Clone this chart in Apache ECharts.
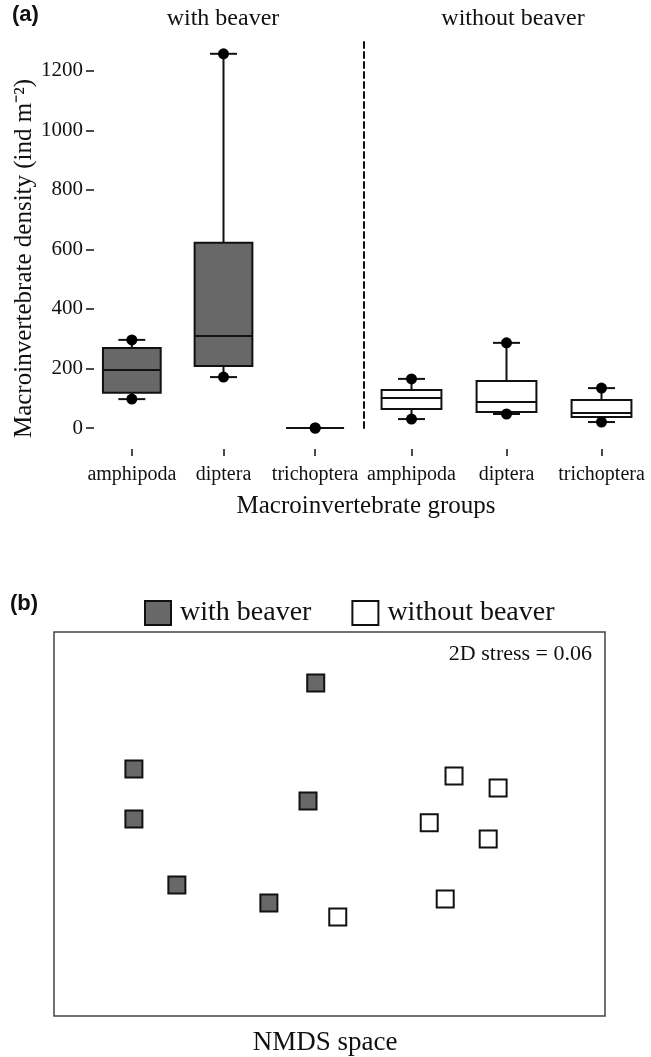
<!DOCTYPE html>
<html>
<head>
<meta charset="utf-8">
<script src="https://cdn.jsdelivr.net/npm/echarts@6/dist/echarts.min.js"></script>
<style>
  html, body { margin: 0; padding: 0; background: #fff; }
  #chart { width: 651px; height: 1057px; }
</style>
</head>
<body>
<div id="chart"></div>
<script>
// panel (a): box stats per group, [min, q1, median, q3, max]
const groups = ["amphipoda", "diptera", "trichoptera"];
const withBeaver = [
  [97, 118, 195, 269, 296],
  [171, 208, 309, 622, 1257],
  [0, 0, 0, 0, 0],
];
const withoutBeaver = [
  [30, 64, 101, 128, 165],
  [47, 54, 87, 158, 286],
  [20, 37, 50, 94, 134],
];
const densityTicks = [0, 200, 400, 600, 800, 1000, 1200];

// panel (b): NMDS site scores (arbitrary units)
const withX = [47.5, 14.5, 46.1, 14.5, 22.3, 39.0];
const withY = [86.7, 64.3, 56.0, 51.3, 34.1, 29.4];
const withoutX = [72.6, 80.6, 68.1, 78.8, 71.0, 51.5];
const withoutY = [62.5, 59.4, 50.3, 46.1, 30.5, 25.8];

const serif = "Liberation Serif, Times New Roman, serif";
const ink = "#111";
const darkFill = "#686868";

var chart = echarts.init(document.getElementById("chart"));

function boxRender(fill) {
  return function (params, api) {
    const i = api.value(0);
    const lo = api.coord([i, api.value(1)]);
    const q1 = api.coord([i, api.value(2)]);
    const md = api.coord([i, api.value(3)]);
    const q3 = api.coord([i, api.value(4)]);
    const hi = api.coord([i, api.value(5)]);
    const band = api.size([1, 0])[0];
    const half = band * 0.315;
    const cap = 13.5;
    const x = lo[0];
    const st = { stroke: ink, lineWidth: 2 };
    return {
      type: "group",
      children: [
        { type: "line", shape: { x1: x, y1: hi[1], x2: x, y2: q3[1] }, style: st },
        { type: "line", shape: { x1: x, y1: q1[1], x2: x, y2: lo[1] }, style: st },
        { type: "line", shape: { x1: x - cap, y1: hi[1], x2: x + cap, y2: hi[1] }, style: st },
        { type: "line", shape: { x1: x - cap, y1: lo[1], x2: x + cap, y2: lo[1] }, style: st },
        {
          type: "rect",
          shape: { x: x - half, y: q3[1], width: half * 2, height: q1[1] - q3[1] },
          style: { fill: fill, stroke: ink, lineWidth: 2 },
        },
        { type: "line", shape: { x1: x - half, y1: md[1], x2: x + half, y2: md[1] }, style: st },
      ],
    };
  };
}

function boxData(stats) {
  return stats.map((s, i) => [i, s[0], s[1], s[2], s[3], s[4]]);
}
function endDots(stats) {
  const pts = [];
  stats.forEach((s, i) => {
    pts.push([i, s[0]]);
    pts.push([i, s[4]]);
  });
  return pts;
}

const catAxis = (gridIndex) => ({
  type: "category",
  gridIndex: gridIndex,
  data: groups,
  offset: 21,
  axisLine: { show: false, onZero: false },
  axisTick: { show: true, alignWithLabel: true, length: 7, lineStyle: { color: ink, width: 1.5 } },
  axisLabel: { color: ink, fontFamily: serif, fontSize: 20, margin: 16, interval: 0, hideOverlap: false },
  splitLine: { show: false },
});

const opt = {
  animation: false,
  backgroundColor: "#fff",
  title: [
    { text: "(a)", left: 12, top: 4, padding: 0, textStyle: { fontFamily: "Liberation Sans, Arial, sans-serif", fontWeight: "bold", fontSize: 22, color: ink } },
    { text: "with beaver", left: 223, top: 7, padding: 0, textAlign: "center", textStyle: { fontFamily: serif, fontWeight: "normal", fontSize: 24, color: ink } },
    { text: "without beaver", left: 513, top: 7, padding: 0, textAlign: "center", textStyle: { fontFamily: serif, fontWeight: "normal", fontSize: 24, color: ink } },
    { text: "Macroinvertebrate groups", left: 366, top: 494, padding: 0, textAlign: "center", textStyle: { fontFamily: serif, fontWeight: "normal", fontSize: 25, color: ink } },
    { text: "(b)", left: 10, top: 593, padding: 0, textStyle: { fontFamily: "Liberation Sans, Arial, sans-serif", fontWeight: "bold", fontSize: 22, color: ink } },
    { text: "2D stress = 0.06", right: 59, top: 643, padding: 0, textStyle: { fontFamily: serif, fontWeight: "normal", fontSize: 22, color: ink } },
    { text: "NMDS space", left: 325, top: 1029, padding: 0, textAlign: "center", textStyle: { fontFamily: serif, fontWeight: "normal", fontSize: 27, color: ink } },
  ],
  legend: {
    data: ["with beaver", "without beaver"],
    left: 144,
    top: 599,
    padding: 0,
    icon: "rect",
    itemWidth: 26,
    itemHeight: 24,
    itemGap: 40,
    textStyle: { fontFamily: serif, fontSize: 28, color: ink, padding: [0, 0, 0, 4] },
  },
  grid: [
    { left: 86, top: 41, width: 275, height: 387 },
    { left: 364, top: 41, width: 285, height: 387 },
    { left: 54, top: 632, width: 551, height: 384, show: true, borderColor: "#444", borderWidth: 1.5, backgroundColor: "transparent" },
  ],
  xAxis: [
    catAxis(0),
    catAxis(1),
    { type: "value", gridIndex: 2, min: 0, max: 100, show: false },
  ],
  yAxis: [
    {
      type: "value",
      gridIndex: 0,
      min: 0,
      max: 1300,
      name: "Macroinvertebrate density (ind m⁻²)",
      nameLocation: "middle",
      nameRotate: 90,
      nameGap: 38,
      nameTextStyle: { fontFamily: serif, fontSize: 25, color: ink, padding: [0, 48, 0, 0] },
      axisLine: { show: false },
      axisTick: { show: true, inside: true, length: 8, customValues: densityTicks, lineStyle: { color: ink, width: 1.5 } },
      axisLabel: { color: ink, fontFamily: serif, fontSize: 21, margin: 3, customValues: densityTicks, formatter: (v) => String(v) },
      splitLine: { show: false },
    },
    {
      type: "value",
      gridIndex: 1,
      min: 0,
      max: 1300,
      axisLine: { show: true, lineStyle: { color: ink, width: 2, type: [6, 4] } },
      axisTick: { show: false },
      axisLabel: { show: false },
      splitLine: { show: false },
    },
    { type: "value", gridIndex: 2, min: 0, max: 100, show: false },
  ],
  series: [
    {
      type: "custom",
      xAxisIndex: 0,
      yAxisIndex: 0,
      renderItem: boxRender(darkFill),
      encode: { x: 0, y: [1, 2, 3, 4, 5] },
      data: boxData(withBeaver),
      z: 2,
    },
    {
      type: "custom",
      xAxisIndex: 1,
      yAxisIndex: 1,
      renderItem: boxRender("#fff"),
      encode: { x: 0, y: [1, 2, 3, 4, 5] },
      data: boxData(withoutBeaver),
      z: 2,
    },
    {
      type: "scatter",
      xAxisIndex: 0,
      yAxisIndex: 0,
      symbol: "circle",
      symbolSize: 11,
      itemStyle: { color: "#000", opacity: 1 },
      data: endDots(withBeaver),
      z: 3,
    },
    {
      type: "scatter",
      xAxisIndex: 1,
      yAxisIndex: 1,
      symbol: "circle",
      symbolSize: 11,
      itemStyle: { color: "#000", opacity: 1 },
      data: endDots(withoutBeaver),
      z: 3,
    },
    {
      name: "with beaver",
      type: "scatter",
      xAxisIndex: 2,
      yAxisIndex: 2,
      symbol: "rect",
      symbolSize: 17,
      itemStyle: { color: darkFill, borderColor: ink, borderWidth: 2, opacity: 1 },
      data: withX.map((x, i) => [x, withY[i]]),
    },
    {
      name: "without beaver",
      type: "scatter",
      xAxisIndex: 2,
      yAxisIndex: 2,
      symbol: "rect",
      symbolSize: 17,
      itemStyle: { color: "#fff", borderColor: ink, borderWidth: 2, opacity: 1 },
      data: withoutX.map((x, i) => [x, withoutY[i]]),
    },
  ],
};

chart.setOption(opt);
</script>
</body>
</html>
